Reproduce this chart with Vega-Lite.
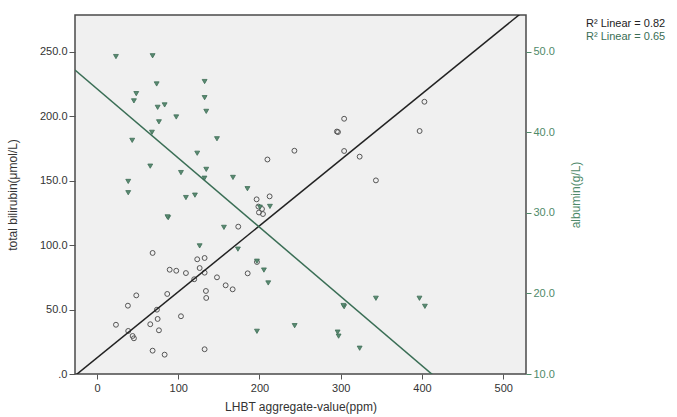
{
  "$schema": "https://vega.github.io/schema/vega-lite/v6.json",
  "width": 451,
  "height": 359,
  "autosize": {"type": "none"},
  "padding": {"left": 75, "top": 15, "right": 151, "bottom": 43},
  "background": "white",
  "config": {
    "font": "Liberation Sans",
    "view": {"fill": "#f0f0f0", "stroke": "#4a4a4a", "strokeWidth": 1.5},
    "axis": {
      "grid": false,
      "domain": false,
      "labelFont": "Liberation Sans",
      "titleFont": "Liberation Sans",
      "labelFontSize": 11,
      "titleFontSize": 12,
      "titleFontWeight": "normal",
      "labelColor": "#333333",
      "titleColor": "#333333",
      "tickColor": "#555555"
    }
  },
  "datasets": {
    "bili": [
      {"x": 23.4, "bili": 38.2}, {"x": 38.5, "bili": 33.4}, {"x": 43.9, "bili": 29.5}, {"x": 45.5, "bili": 27.7},
      {"x": 38.1, "bili": 53.0}, {"x": 48.4, "bili": 61.0}, {"x": 65.6, "bili": 38.6}, {"x": 68.5, "bili": 93.9},
      {"x": 68.5, "bili": 18.1}, {"x": 73.8, "bili": 49.9}, {"x": 74.7, "bili": 42.7}, {"x": 76.3, "bili": 33.9},
      {"x": 83.3, "bili": 15.0}, {"x": 86.5, "bili": 62.1}, {"x": 89.5, "bili": 80.9}, {"x": 97.6, "bili": 80.1},
      {"x": 103.4, "bili": 44.8}, {"x": 109.5, "bili": 78.3}, {"x": 119.7, "bili": 73.5}, {"x": 123.4, "bili": 89.0},
      {"x": 132.5, "bili": 90.0}, {"x": 126.4, "bili": 82.2}, {"x": 132.5, "bili": 78.6}, {"x": 134.1, "bili": 64.4},
      {"x": 134.5, "bili": 59.0}, {"x": 132.5, "bili": 19.2}, {"x": 147.7, "bili": 75.0}, {"x": 158.4, "bili": 68.8},
      {"x": 167.0, "bili": 65.7}, {"x": 173.9, "bili": 114.3}, {"x": 185.5, "bili": 78.1}, {"x": 196.9, "bili": 86.9},
      {"x": 196.5, "bili": 135.5}, {"x": 198.7, "bili": 129.9}, {"x": 203.1, "bili": 128.0}, {"x": 199.4, "bili": 125.3},
      {"x": 204.3, "bili": 124.1}, {"x": 212.5, "bili": 137.8}, {"x": 209.8, "bili": 166.4}, {"x": 243.0, "bili": 173.2},
      {"x": 296.6, "bili": 187.7}, {"x": 295.3, "bili": 188.1}, {"x": 304.2, "bili": 198.0}, {"x": 304.2, "bili": 173.0},
      {"x": 323.3, "bili": 168.6}, {"x": 343.3, "bili": 150.2}, {"x": 403.0, "bili": 211.2}, {"x": 397.1, "bili": 188.5}
    ],
    "alb": [
      {"x": 23.4, "alb": 49.4}, {"x": 68.5, "alb": 49.5}, {"x": 73.5, "alb": 46.0}, {"x": 132.5, "alb": 46.3},
      {"x": 48.4, "alb": 44.8}, {"x": 45.5, "alb": 43.9}, {"x": 132.5, "alb": 44.3}, {"x": 74.7, "alb": 43.1},
      {"x": 83.3, "alb": 43.4}, {"x": 134.5, "alb": 42.6}, {"x": 97.6, "alb": 41.9}, {"x": 76.3, "alb": 41.3},
      {"x": 67.7, "alb": 40.0}, {"x": 43.4, "alb": 39.0}, {"x": 147.7, "alb": 39.2}, {"x": 123.4, "alb": 37.4},
      {"x": 65.6, "alb": 35.8}, {"x": 103.4, "alb": 35.0}, {"x": 134.5, "alb": 35.4}, {"x": 132.3, "alb": 34.3},
      {"x": 38.5, "alb": 33.9}, {"x": 38.5, "alb": 32.5}, {"x": 109.5, "alb": 31.9}, {"x": 120.6, "alb": 32.2},
      {"x": 167.4, "alb": 34.4}, {"x": 185.2, "alb": 33.0}, {"x": 87.7, "alb": 29.4}, {"x": 86.8, "alb": 29.5},
      {"x": 156.3, "alb": 28.2}, {"x": 126.4, "alb": 25.9}, {"x": 173.5, "alb": 25.5}, {"x": 196.9, "alb": 24.0},
      {"x": 205.5, "alb": 22.9}, {"x": 210.8, "alb": 21.3}, {"x": 212.9, "alb": 30.8}, {"x": 200.6, "alb": 30.7},
      {"x": 304.2, "alb": 18.35}, {"x": 303.3, "alb": 18.5}, {"x": 343.3, "alb": 19.4}, {"x": 396.9, "alb": 19.4},
      {"x": 403.6, "alb": 18.4}, {"x": 196.9, "alb": 15.3}, {"x": 243.3, "alb": 16.0}, {"x": 296.2, "alb": 15.2},
      {"x": 297.4, "alb": 14.7}, {"x": 323.3, "alb": 13.2}
    ]
  },
  "layer": [
    {
      "layer": [
        {
          "data": {"name": "bili"},
          "mark": {"type": "point", "shape": "circle", "filled": false, "size": 24, "strokeWidth": 1, "color": "#555555", "opacity": 1},
          "encoding": {
            "x": {
              "field": "x", "type": "quantitative",
              "scale": {"domain": [-27, 528], "nice": false, "zero": false},
              "axis": {"values": [0, 100, 200, 300, 400, 500], "title": "LHBT aggregate-value(ppm)", "tickSize": 5, "labelPadding": 3, "titlePadding": 8}
            },
            "y": {
              "field": "bili", "type": "quantitative",
              "scale": {"domain": [0, 278.5], "nice": false, "zero": false},
              "axis": {"values": [0, 50, 100, 150, 200, 250], "labelExpr": "datum.value == 0 ? '.0' : format(datum.value, '.1f')", "title": "total bilirubin(μmol/L)", "tickSize": 6, "labelPadding": 2, "titlePadding": 20}
            }
          }
        },
        {
          "data": {"name": "bili"},
          "transform": [{"regression": "bili", "on": "x", "extent": [-27, 528]}],
          "mark": {"type": "line", "clip": true, "strokeWidth": 1.5},
          "encoding": {
            "x": {"field": "x", "type": "quantitative"},
            "y": {"field": "bili", "type": "quantitative"},
            "color": {
              "datum": "R² Linear = 0.82", "type": "nominal",
              "scale": {"domain": ["R² Linear = 0.82", "R² Linear = 0.65"], "range": ["#222222", "#3a6e55"]},
              "legend": {
                "title": null, "orient": "right", "offset": -10, "padding": 3,
                "symbolSize": 0, "symbolOpacity": 0, "labelOffset": 0,
                "labelFont": "Liberation Sans", "labelFontSize": 11, "rowPadding": 1.5,
                "labelColor": {"expr": "datum.value == 'R² Linear = 0.82' ? '#222222' : '#3a6e55'"}
              }
            }
          }
        }
      ]
    },
    {
      "layer": [
        {
          "data": {"name": "alb"},
          "mark": {"type": "point", "shape": "triangle-down", "filled": true, "size": 24, "color": "#5a8a72", "stroke": "#3f6f57", "strokeWidth": 0.8, "opacity": 1},
          "encoding": {
            "x": {"field": "x", "type": "quantitative"},
            "y": {
              "field": "alb", "type": "quantitative",
              "scale": {"domain": [10, 54.56], "nice": false, "zero": false},
              "axis": {"orient": "right", "values": [10, 20, 30, 40, 50], "format": ".1f", "title": "albumin(g/L)", "titleAngle": 270, "tickSize": 5, "labelPadding": 2, "titlePadding": 28, "tickColor": "#4f8a6a", "labelColor": "#4f8a6a", "titleColor": "#4f8a6a"}
            }
          }
        },
        {
          "data": {"name": "alb"},
          "transform": [{"regression": "alb", "on": "x", "extent": [-27, 528]}],
          "mark": {"type": "line", "clip": true, "strokeWidth": 1.5},
          "encoding": {
            "x": {"field": "x", "type": "quantitative"},
            "y": {"field": "alb", "type": "quantitative"},
            "color": {"datum": "R² Linear = 0.65", "type": "nominal"}
          }
        }
      ]
    }
  ],
  "resolve": {"scale": {"y": "independent"}}
}
